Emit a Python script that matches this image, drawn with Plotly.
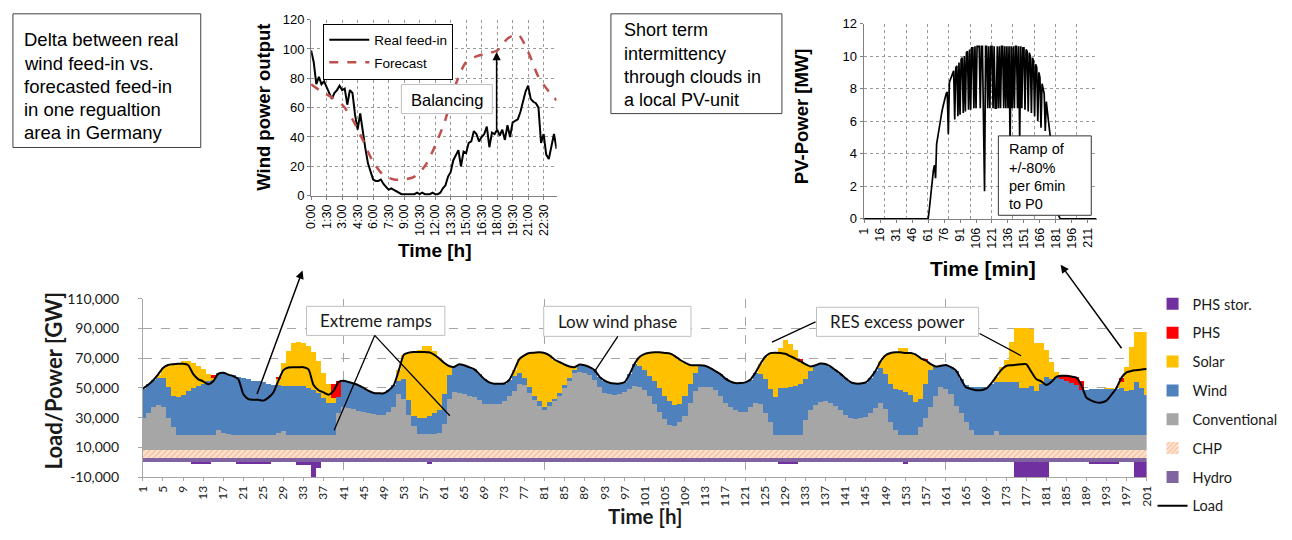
import plotly.graph_objects as go

FIG_W, FIG_H = 1292, 540


def px(x):
    return x / FIG_W


def py(y):
    return 1 - y / FIG_H


# ---------------------------------------------------------------------------
# Main chart: hourly generation mix and load (values in 1,000 MW)
# ---------------------------------------------------------------------------
hours = list(range(1, 202))
hydro_level = 2.8
chp_level = 5.4

conventional = [
    21.8, 25.1, 29.4, 30.5, 28.8, 21.8, 15.3, 10.4, 10.4, 10.4,
    10.4, 10.4, 10.4, 10.4, 10.4, 13.3, 11.8, 10.8, 10.4, 10.4,
    10.4, 10.4, 10.4, 10.4, 10.4, 10.4, 10.4, 11.8, 12.8, 10.4,
    10.4, 10.4, 10.4, 10.4, 10.4, 10.4, 10.4, 10.4, 10.4, 24.8,
    28.8, 28.3, 27.8, 26.3, 25.8, 25.3, 24.3, 23.8, 23.8, 25.8,
    28.8, 37.8, 34.8, 23.8, 16.3, 10.8, 10.8, 10.8, 10.8, 11.3,
    17.3, 34.8, 39.2, 38.8, 37.8, 36.3, 35.8, 33.8, 31.3, 30.8,
    30.8, 30.8, 32.8, 36.8, 39.8, 44.8, 43.8, 38.8, 33.8, 29.8,
    27.3, 29.8, 32.8, 36.8, 41.8, 46.8, 51.8, 52.8, 52.3, 50.3,
    47.3, 42.3, 38.8, 37.8, 37.3, 37.8, 39.3, 41.3, 43.3, 42.8,
    40.8, 36.3, 31.3, 25.8, 20.8, 16.8, 16.3, 18.8, 22.8, 31.8,
    39.8, 42.3, 42.8, 42.3, 40.3, 36.8, 31.8, 28.8, 26.8, 25.8,
    25.8, 29.3, 31.8, 30.8, 24.8, 18.8, 10.4, 10.4, 10.4, 10.4,
    10.4, 10.4, 20.3, 26.8, 30.3, 32.6, 32.8, 31.8, 29.8, 26.8,
    23.8, 21.8, 21.3, 21.8, 22.3, 24.8, 28.3, 31.8, 27.8, 18.8,
    13.8, 10.4, 10.4, 10.4, 10.4, 15.8, 21.8, 29.4, 36.8, 42.3,
    41.3, 37.8, 29.8, 24.8, 18.8, 13.3, 10.4, 10.4, 10.4, 10.4,
    12.8, 10.4, 10.4, 10.4, 10.4, 10.4, 10.4, 10.4, 10.4, 10.4,
    10.4, 10.4, 10.4, 10.4, 10.4, 10.4, 10.4, 10.4, 10.4, 10.4,
    10.4, 10.4, 10.4, 10.4, 10.4, 10.4, 10.4, 10.4, 10.4, 10.4,
    10.4,
]

wind = [
    19.5, 19.2, 17.9, 18.3, 20.0, 21.0, 21.0, 25.5, 27.0, 29.5,
    31.5, 33.0, 34.5, 36.5, 37.5, 38.5, 40.0, 40.0, 40.0, 39.0,
    38.0, 37.5, 36.5, 36.0, 35.5, 34.5, 33.5, 32.0, 30.5, 32.5,
    33.0, 32.5, 32.5, 31.5, 30.0, 28.0, 25.0, 21.5, 21.5, 11.0,
    18.0, 17.5, 17.0, 17.3, 16.0, 14.5, 14.1, 14.4, 14.4, 14.5,
    15.0, 9.0, 13.0, 10.0, 6.5, 11.0, 11.0, 12.0, 14.0, 15.5,
    20.5, 16.0, 16.8, 19.0, 19.3, 19.5, 18.7, 17.5, 16.5, 14.8,
    13.9, 13.9, 12.0, 10.5, 10.0, 7.0, 5.0, 4.0, 3.0, 3.0,
    2.0, 2.5, 2.0, 2.0, 2.0, 2.0, 2.0, 4.8, 4.8, 5.5,
    6.5, 7.0, 8.0, 7.5, 7.5, 7.0, 6.5, 10.0, 15.0, 14.0,
    13.0, 13.5, 15.0, 16.0, 16.0, 16.0, 14.2, 12.5, 14.0, 13.0,
    12.0, 14.8, 14.0, 13.0, 13.0, 14.5, 16.5, 17.5, 18.3, 19.3,
    19.8, 18.0, 20.0, 20.4, 23.0, 22.6, 25.3, 31.5, 31.8, 32.3,
    32.8, 34.1, 27.5, 26.6, 26.8, 25.7, 25.2, 24.5, 24.0, 24.5,
    24.5, 24.0, 23.5, 23.0, 23.2, 24.0, 25.1, 23.8, 23.4, 25.8,
    27.6, 29.8, 28.7, 26.5, 22.1, 19.0, 22.8, 24.4, 19.5, 14.5,
    16.0, 18.0, 23.8, 23.0, 25.0, 29.5, 32.0, 32.0, 32.0, 34.3,
    33.4, 35.7, 35.7, 35.7, 35.3, 31.5, 31.5, 33.1, 29.3, 34.1,
    39.0, 37.3, 39.0, 37.3, 36.3, 34.8, 33.3, 30.3, 30.3, 30.8,
    30.8, 30.8, 30.8, 30.8, 30.8, 31.3, 29.3, 29.8, 35.3, 31.3,
    26.8,
]

solar = [
    0, 0, 0, 2.0, 6.5, 14.5, 21.5, 22.3, 22.5, 20.0,
    17.0, 13.5, 9.7, 4.4, 1.0, 0, 0, 0, 0, 0,
    0, 0, 0, 0, 0, 0, 0, 4.0, 15.5, 24.0,
    29.0, 30.2, 29.5, 28.5, 26.0, 21.5, 16.5, 13.0, 3.0, 0,
    0, 0, 0, 0, 0, 0, 0, 0, 0, 0,
    0, 7.0, 16.5, 31.8, 43.2, 45.5, 48.5, 47.5, 42.0, 35.0,
    21.0, 5.8, 0, 0, 0, 0, 0, 0, 0, 0,
    0, 0, 0, 0, 4.0, 9.5, 15.0, 22.6, 28.8, 33.0,
    36.0, 31.5, 26.2, 20.5, 13.8, 7.5, 2.0, 0, 0, 0,
    0, 0, 0, 0, 0, 0, 0, 0, 0, 6.0,
    11.0, 15.8, 19.5, 24.0, 28.6, 32.2, 32.8, 29.5, 22.0, 12.5,
    5.3, 0, 0, 0, 0, 0, 0, 0, 0, 0,
    0, 0, 0, 6.6, 15.0, 23.9, 29.8, 26.6, 31.8, 29.0,
    24.2, 15.2, 10.0, 2.9, 0, 0, 0, 0, 0, 0,
    0, 0, 0, 0, 0, 0, 0, 4.2, 12.6, 20.7,
    24.4, 28.8, 29.9, 28.8, 31.7, 27.0, 15.7, 4.0, 0, 0,
    0, 0, 0, 0, 0, 0, 0, 0, 0, 0,
    3.1, 9.6, 14.6, 26.6, 36.3, 40.1, 40.1, 38.2, 32.5, 27.7,
    18.0, 12.0, 3.3, 0, 0, 0, 0, 0, 0, 0,
    0, 0, 0.5, 0.5, 0, 4.0, 16.0, 29.5, 33.7, 37.7,
    42.2,
]

phs = [
    0, 0, 0, 0, 0, 0, 0, 0, 0, 0,
    0, 0, 0, 0, 1.5, 0, 0, 0, 0, 0,
    0, 0, 0, 0, 0, 0, 0, 1.5, 0, 0,
    0, 0, 0, 0, 0, 0, 0, 0, 10.0, 10.5,
    0, 0, 0, 0, 0, 0, 0, 0, 0, 0,
    0, 0, 0, 0, 0, 0, 0, 0, 0, 0,
    0, 0, 0, 0, 0, 0, 0, 0, 0, 0,
    0, 0, 0, 0, 0, 0, 0, 0, 0, 0,
    0, 0, 0, 0, 0, 0, 0, 0, 0, 0,
    0, 0, 0, 0, 0, 0, 0, 0, 0, 0,
    0, 0, 0, 0, 0, 0, 0, 0, 0, 0,
    0, 0, 0, 0, 0, 0, 0, 0, 0, 0,
    0, 0, 0, 0, 0, 0, 0, 0, 0, 0,
    0, 1.5, 0, 0, 0, 0, 0, 0, 0, 0,
    0, 0, 0, 0, 0, 0, 0, 0, 0, 0,
    0, 0, 0, 0, 0, 0, 1.0, 0, 0, 0,
    0, 0, 0, 0, 0, 0, 0, 0, 0, 0,
    0, 0, 0, 0, 0, 0, 0, 0, 0, 0,
    0, 0, 0, 2.2, 3.3, 4.5, 5.3, 6.0, 0, 0,
    0, 0, 0, 0, 0, 3.0, 0, 0, 0, 0,
    0,
]

phs_storage = [
    0, 0, 0, 0, 0, 0, 0, 0, 0, 0,
    -0.7, -0.7, -0.7, -0.7, 0, 0, 0, 0, 0, -0.7,
    -0.7, -0.7, -0.7, -0.7, -0.7, -0.7, 0, 0, 0, 0,
    0, -1.5, -2.0, -2.0, -10.0, -3.5, 0, 0, 0, 0,
    0, 0, 0, 0, 0, 0, 0, 0, 0, 0,
    0, 0, 0, 0, 0, 0, 0, -1.0, 0, 0,
    0, 0, 0, 0, 0, 0, 0, 0, 0, 0,
    0, 0, 0, 0, 0, 0, 0, 0, 0, 0,
    0, 0, 0, 0, 0, 0, 0, 0, 0, 0,
    0, 0, 0, 0, 0, 0, 0, 0, 0, 0,
    0, 0, 0, 0, 0, 0, 0, 0, 0, 0,
    0, 0, 0, 0, 0, 0, 0, 0, 0, 0,
    0, 0, 0, 0, 0, 0, 0, -0.8, -0.8, -0.8,
    -0.8, 0, 0, 0, 0, 0, 0, 0, 0, 0,
    0, 0, 0, 0, 0, 0, 0, 0, 0, 0,
    0, 0, -0.8, 0, 0, 0, 0, 0, 0, 0,
    0, 0, 0, 0, 0, 0, 0, 0, 0, 0,
    0, 0, 0, 0, -10.0, -10.0, -10.0, -10.0, -10.0, -10.0,
    -10.0, 0, 0, 0, 0, 0, 0, 0, 0, -0.8,
    -0.8, -0.8, -0.8, -0.8, -0.8, 0, 0, 0, -10.0, -10.0,
    -10.0,
]

load = [
    49.5, 52.0, 55.0, 59.0, 63.5, 65.5, 66.0, 66.3, 66.3, 65.5,
    59.5, 56.0, 54.5, 52.5, 54.5, 59.5, 60.3, 59.0, 58.0, 56.0,
    46.0, 42.5, 42.0, 42.0, 41.5, 43.5, 47.0, 55.0, 62.0, 63.8,
    64.0, 64.0, 64.0, 62.5, 52.0, 48.5, 47.0, 45.5, 48.0, 54.0,
    54.8, 54.0, 53.0, 51.8, 50.0, 48.0, 46.6, 46.4, 46.4, 48.5,
    52.0, 62.0, 72.5, 73.8, 74.2, 74.3, 74.3, 74.0, 72.5, 70.0,
    67.0, 64.8, 64.2, 66.0, 65.3, 64.0, 62.7, 59.5, 56.0, 53.8,
    52.9, 52.9, 53.0, 55.5, 62.0, 69.5, 72.0, 73.6, 73.8, 74.0,
    73.5, 72.0, 69.2, 67.5, 65.8, 64.5, 64.0, 65.8, 65.3, 64.0,
    62.0, 57.5, 55.0, 53.5, 53.0, 53.0, 54.0, 59.5, 66.5, 71.0,
    73.0, 73.8, 74.0, 74.0, 73.6, 73.2, 71.5, 69.0, 67.0, 65.5,
    65.3, 65.3, 65.0, 63.5, 61.5, 59.5, 56.5, 54.5, 53.3, 53.3,
    53.8, 55.5, 60.0, 66.0, 71.0, 73.5, 73.8, 73.6, 73.0, 71.4,
    69.8, 68.0, 66.0, 64.5, 65.3, 66.5, 66.2, 64.5, 62.0, 59.5,
    56.5, 54.0, 53.0, 53.0, 53.7, 57.0, 61.6, 68.0, 72.0, 73.5,
    74.0, 74.0, 73.6, 73.6, 72.5, 70.0, 68.5, 66.0, 64.5, 65.0,
    65.5, 64.0, 61.8, 56.0, 50.5, 49.3, 48.5, 48.5, 49.5, 53.0,
    57.5, 62.0, 64.8, 65.3, 65.6, 66.0, 66.0, 61.0, 56.0, 54.5,
    52.0, 54.0, 57.5, 58.2, 58.2, 57.7, 57.0, 52.0, 43.5, 41.5,
    40.3, 40.2, 41.5, 45.5, 50.0, 57.0, 60.5, 61.5, 62.0, 62.5,
    62.7,
]

main_y_ticks = [-10, 10, 30, 50, 70, 90, 110]
main_y_ticktext = ["-10,000", "10,000", "30,000", "50,000", "70,000", "90,000", "110,000"]

# ---------------------------------------------------------------------------
# Wind panel: 15-minute real feed-in vs. hourly forecast
# ---------------------------------------------------------------------------
wind_real = [
    99, 91, 76, 81, 76, 78, 74, 70, 66, 70,
    72, 75, 72, 73, 62, 72, 70, 55, 45, 56,
    42, 32, 22, 16, 11, 10, 10, 11, 8, 6,
    4, 5, 4, 3, 1.5, 1, 1, 1, 1, 1,
    1, 2, 1, 2, 1, 1, 1, 2, 1, 1,
    2, 5, 7, 13, 16, 24, 28, 31, 20, 30,
    29, 36, 37, 44, 42, 37, 40, 42, 47, 33,
    43, 42, 45, 41, 45, 38, 48, 40, 50, 51,
    52, 57, 65, 71, 75, 66, 64, 63, 60, 36,
    42, 28, 25, 34, 42, 32,
]
wind_real_time = [i * 0.25 for i in range(len(wind_real))]

forecast_time = [0, 1, 2, 3, 4, 5, 6, 7, 8, 9, 10, 11, 12, 13, 14, 15, 16,
                 17, 18, 19, 20, 21, 22, 23, 23.75]
forecast = [76, 71, 67, 62, 52, 38, 23, 14, 11, 11, 13, 20, 34, 52, 76, 91,
            95, 97, 99, 107, 110, 98, 81, 71, 65]

wind_tickvals = [0, 1.5, 3, 4.5, 6, 7.5, 9, 10.5, 12, 13.5, 15, 16.5, 18,
                 19.5, 21, 22.5]
wind_ticktext = ["0:00", "1:30", "3:00", "4:30", "6:00", "7:30", "9:00",
                 "10:30", "12:00", "13:30", "15:00", "16:30", "18:00",
                 "19:30", "21:00", "22:30"]

# ---------------------------------------------------------------------------
# PV panel: minute values of a local PV unit (MW)
# ---------------------------------------------------------------------------
pv_minutes = list(range(1, 220))
pv_power = [
    0, 0, 0, 0, 0, 0, 0, 0, 0, 0,
    0, 0, 0, 0, 0, 0, 0, 0, 0, 0,
    0, 0, 0, 0, 0, 0, 0, 0, 0, 0,
    0, 0, 0, 0, 0, 0, 0, 0, 0, 0,
    0, 0, 0, 0, 0, 0, 0, 0, 0, 0,
    0, 0, 0, 0, 0, 0, 0, 0, 0, 0,
    0, 0.5, 1.2, 1.9, 2.5, 3.0, 3.3, 2.5, 4.6, 5.0,
    5.5, 6.0, 6.3, 6.6, 6.9, 7.2, 7.5, 7.7, 7.8, 5.2,
    8.4, 8.6, 8.8, 9.0, 9.1, 6.1, 9.3, 9.4, 6.3, 9.6,
    6.4, 9.8, 9.9, 6.5, 10.0, 6.6, 10.2, 10.3, 6.7, 10.4,
    6.7, 10.5, 10.5, 6.8, 10.6, 6.8, 10.6, 10.6, 10.6, 6.8,
    10.6, 10.6, 6.8, 1.7, 10.6, 10.6, 6.8, 10.6, 6.8, 10.6,
    10.6, 6.8, 10.6, 6.8, 6.8, 10.6, 6.8, 10.6, 6.8, 10.6,
    10.6, 6.8, 10.6, 6.8, 10.6, 6.8, 10.6, 4.6, 10.6, 6.8,
    10.6, 6.8, 10.6, 10.6, 6.8, 10.6, 4.8, 10.6, 6.8, 10.5,
    10.5, 6.7, 10.4, 10.3, 6.6, 10.2, 10.0, 6.5, 9.9, 9.7,
    6.3, 9.5, 9.3, 6.0, 9.0, 8.7, 5.6, 8.3, 8.0, 7.7,
    5.4, 7.2, 6.6, 6.1, 5.6, 5.0, 4.3, 3.6, 2.8, 2.0,
    1.3, 0.7, 0.3, 0.1, 0, 0, 0, 0, 0, 0,
    0, 0, 0, 0, 0, 0, 0, 0, 0, 0,
    0, 0, 0, 0, 0, 0, 0, 0, 0, 0,
    0, 0, 0, 0, 0, 0, 0, 0, 0,
]

# ---------------------------------------------------------------------------
MAIN_FONT = "Lato"
PANEL_FONT = "Liberation Sans"
TXT = "#1a1a1a"
GRID = "#A6A6A6"

fig = go.Figure()

# stacked generation, bottom to top
stack = [
    ("Hydro", [hydro_level] * len(hours), dict(color="#8064A2"), 7),
    ("CHP", [chp_level] * len(hours),
     dict(color="#FCE4D6", pattern=dict(shape="/", fgcolor="#F08A3C", bgcolor="#FCE4D6",
                                         size=4, solidity=0.3)), 6),
    ("Conventional", conventional, dict(color="#A6A6A6"), 5),
    ("Wind", wind, dict(color="#4F81BD"), 4),
    ("Solar", solar, dict(color="#FFC000"), 3),
    ("PHS", phs, dict(color="#FF0000"), 2),
    ("PHS stor.", phs_storage, dict(color="#7030A0"), 1),
]
for name, values, marker, rank in stack:
    marker = dict(marker, line=dict(width=0))
    fig.add_trace(go.Bar(x=hours, y=values, name=name, marker=marker,
                         legendgroup=name, legendrank=rank, legend="legend",
                         xaxis="x", yaxis="y", hoverinfo="skip"))

fig.add_trace(go.Scatter(x=hours, y=load, name="Load", mode="lines",
                         line=dict(color="black", width=2, shape="spline", smoothing=0.6),
                         legendgroup="Load", legendrank=8, legend="legend",
                         xaxis="x", yaxis="y"))

# wind panel
fig.add_trace(go.Scatter(x=wind_real_time, y=wind_real, name="Real feed-in", mode="lines",
                         line=dict(color="black", width=2),
                         legend="legend2", legendgroup="real", legendrank=1,
                         xaxis="x2", yaxis="y2"))
fig.add_trace(go.Scatter(x=forecast_time, y=forecast, name="Forecast", mode="lines",
                         line=dict(color="#C0504D", width=2.5, dash="dash", shape="spline",
                                   smoothing=0.8),
                         legend="legend2", legendgroup="fc", legendrank=2,
                         xaxis="x2", yaxis="y2"))

# PV panel
fig.add_trace(go.Scatter(x=pv_minutes, y=pv_power, mode="lines", showlegend=False,
                         line=dict(color="black", width=1.7),
                         xaxis="x3", yaxis="y3"))

panel_tick = dict(family=PANEL_FONT, size=13, color="black")
main_tick = dict(family=MAIN_FONT, size=14, color=TXT)

fig.update_layout(
    width=FIG_W, height=FIG_H,
    margin=dict(l=0, r=0, t=0, b=0),
    paper_bgcolor="white", plot_bgcolor="white",
    barmode="relative", bargap=0,
    xaxis=dict(domain=[px(136.5), px(1152)], range=[1, 201], anchor="y",
               tickmode="linear", tick0=1, dtick=4, tickangle=-90,
               tickfont=dict(family=MAIN_FONT, size=12, color=TXT),
               showgrid=False, zeroline=False,
               showline=True, linecolor=GRID, linewidth=1,
               ticks="outside", ticklen=3, tickcolor=GRID,
               minor=dict(tickmode="array", tickvals=[41, 81, 121, 161, 201],
                          showgrid=True, gridcolor=GRID, griddash="dash", gridwidth=1)),
    yaxis=dict(domain=[py(483.3), py(299.3)], range=[-10, 110], anchor="x",
               tickmode="array", tickvals=main_y_ticks, ticktext=main_y_ticktext,
               tickfont=main_tick, showgrid=True, gridcolor=GRID, griddash="dash",
               zeroline=False, showline=True, linecolor=GRID,
               ticks="outside", ticklen=4, tickcolor=GRID, ticklabelstandoff=16),
    xaxis2=dict(domain=[px(306.7), px(555)], range=[0, 23.75], anchor="y2",
                tickmode="array", tickvals=wind_tickvals, ticktext=wind_ticktext,
                tickangle=-90, tickfont=dict(family=PANEL_FONT, size=12.5, color="black"),
                showgrid=True, gridcolor="#9A9A9A", griddash="dot", zeroline=False,
                showline=True, linecolor="#808080", ticks="outside", ticklen=3,
                tickcolor="#808080",
                minor=dict(tickmode="array", tickvals=[23.75], showgrid=True,
                           gridcolor="#9A9A9A", griddash="dot")),
    yaxis2=dict(domain=[py(192.7), py(11)], range=[0, 120], anchor="x2",
                tickmode="linear", tick0=0, dtick=20, tickfont=panel_tick,
                showgrid=True, gridcolor="#9A9A9A", griddash="dot", zeroline=False,
                showline=True, linecolor="#808080", ticks="outside", ticklen=3,
                tickcolor="#808080"),
    xaxis3=dict(domain=[px(865.7), px(1101.7)], range=[0.5, 219.5], anchor="y3",
                tickmode="linear", tick0=1, dtick=15, tickangle=-90,
                tickfont=dict(family=PANEL_FONT, size=12.5, color="black"),
                showgrid=False, zeroline=False,
                showline=True, linecolor="#808080", ticks="outside", ticklen=3,
                tickcolor="#808080",
                minor=dict(tickmode="array",
                           tickvals=[20.5, 40.5, 60.5, 80.5, 100.5, 120.5, 140.5,
                                     160.5, 180.5, 200.5, 219.5],
                           showgrid=True, gridcolor="#9A9A9A", griddash="dot")),
    yaxis3=dict(domain=[py(216.7), py(15)], range=[0, 12], anchor="x3",
                tickmode="linear", tick0=0, dtick=2, tickfont=panel_tick,
                showgrid=True, gridcolor="#9A9A9A", griddash="dot", zeroline=False,
                showline=True, linecolor="#808080", ticks="outside", ticklen=3,
                tickcolor="#808080"),
    legend=dict(x=px(1158), y=py(288), xanchor="left", yanchor="top",
                font=dict(family=MAIN_FONT, size=14.5, color=TXT),
                tracegroupgap=7, bgcolor="rgba(0,0,0,0)", itemwidth=30),
    legend2=dict(x=px(319), y=py(15), xanchor="left", yanchor="top",
                 font=dict(family=PANEL_FONT, size=13.5, color="black"),
                 bgcolor="white", bordercolor="black", borderwidth=1,
                 tracegroupgap=2, itemwidth=40),
    showlegend=True,
)

annotations = []
shapes = []


def label(text, x, y, size, family, bold=False, angle=0, anchor="center", color="black"):
    annotations.append(dict(
        text=f"<b>{text}</b>" if bold else text,
        x=px(x), y=py(y), xref="paper", yref="paper",
        xanchor=anchor, yanchor="middle", showarrow=False, textangle=angle,
        font=dict(family=family, size=size, color=color)))


def box(x0, y0, x1, y1, color):
    shapes.append(dict(type="rect", xref="paper", yref="paper",
                       x0=px(x0), x1=px(x1), y0=py(y1), y1=py(y0),
                       line=dict(color=color, width=1), fillcolor="white", layer="above"))


def segment(x0, y0, x1, y1, width=1.3):
    shapes.append(dict(type="line", xref="paper", yref="paper",
                       x0=px(x0), y0=py(y0), x1=px(x1), y1=py(y1),
                       line=dict(color="black", width=width), layer="above"))


def arrow(head_x, head_y, tail_x, tail_y):
    annotations.append(dict(
        text="", x=px(head_x), y=py(head_y), xref="paper", yref="paper",
        ax=tail_x - head_x, ay=tail_y - head_y, axref="pixel", ayref="pixel",
        showarrow=True, arrowhead=2, arrowsize=1.1, arrowwidth=1.5,
        arrowcolor="black"))


# axis titles
label("Load/Power [GW]", 46, 384, 22, MAIN_FONT, bold=True, angle=-90, color=TXT)
label("Time [h]", 644, 523, 20.5, MAIN_FONT, bold=True, color=TXT)
label("Wind power output", 259, 101, 18.5, PANEL_FONT, bold=True, angle=-90)
label("Time [h]", 432, 249, 19, PANEL_FONT, bold=True)
label("PV-Power [MW]", 803, 111, 18.5, PANEL_FONT, bold=True, angle=-90)
label("Time [min]", 986, 268, 21, PANEL_FONT, bold=True)

# descriptive boxes
box(5, 5, 195, 143, "#404040")
for i, line in enumerate(["Delta between real", "wind feed-in vs.", "forecasted feed-in",
                          "in one regualtion", "area in Germany"]):
    label(line, 14, 32 + i * 23.8, 18.5, PANEL_FONT, anchor="left")

box(610, 5, 783, 108, "#404040")
for i, line in enumerate(["Short term", "intermittency", "through clouds in",
                          "a local PV-unit"]):
    label(line, 621, 22 + i * 24, 18, PANEL_FONT, anchor="left")

box(1002, 131, 1096, 213, "#333333")
for i, line in enumerate(["Ramp of", "+/-80%", "per 6min", "to P0"]):
    label(line, 1011, 145 + i * 18.7, 14.5, PANEL_FONT, anchor="left")

box(398, 78, 490, 108, "#BFBFBF")
label("Balancing", 444, 94, 16.5, PANEL_FONT)

box(302, 307, 442, 337, "#BFBFBF")
label("Extreme ramps", 372, 322, 17, MAIN_FONT, color=TXT)
segment(371, 337, 330, 435)
segment(371, 337, 447, 420)

box(542, 307, 691, 338, "#BFBFBF")
label("Low wind phase", 616.5, 322.5, 17, MAIN_FONT, color=TXT)
segment(617, 338, 593, 375)

box(818, 308, 982, 338, "#BFBFBF")
label("RES excess power", 900, 323, 17, MAIN_FONT, color=TXT)
segment(817, 323, 773, 344)
segment(983, 335, 1025, 358)

# arrows linking the panels to the weekly chart
arrow(298, 270, 252, 395)
arrow(1065, 264, 1127, 349)

# balancing gap inside the wind panel
annotations.append(dict(text="", x=17.95, y=98, xref="x2", yref="y2",
                        ax=17.95, ay=44, axref="x2", ayref="y2",
                        showarrow=True, arrowhead=2, arrowsize=1.1, arrowwidth=1.5,
                        arrowcolor="black"))

fig.update_layout(annotations=annotations, shapes=shapes)

fig.write_html("out.html")
